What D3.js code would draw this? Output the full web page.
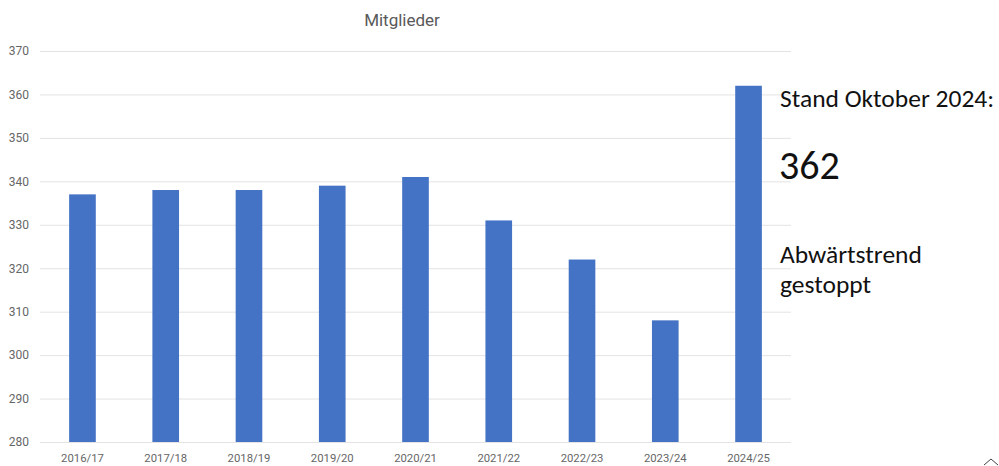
<!DOCTYPE html>
<html><head><meta charset="utf-8">
<script src="https://cdn.jsdelivr.net/npm/d3@7"></script>
<style>body{margin:0;background:#fff;}svg{display:block;}</style>
</head><body>
<svg id="c" width="999" height="466"></svg>
<script>
const categories = ["2016/17","2017/18","2018/19","2019/20","2020/21","2021/22","2022/23","2023/24","2024/25"];
const members = [337,338,338,339,341,331,322,308,362];
const yTicks = [280,290,300,310,320,330,340,350,360,370];
const title = "Mitglieder";
const noteLines = ["Stand Oktober 2024:"];
const noteValue = "362";
const noteTrend = ["Abwärtstrend","gestoppt"];

const svg = d3.select("#c");
const m = {left:40, right:208, top:51, bottom:24};
const W = 999, H = 466;
const x = d3.scaleBand().domain(categories).range([m.left, W - m.right]).paddingInner(0.68).paddingOuter(0.35);
const y = d3.scaleLinear().domain([280,370]).range([H - m.bottom, m.top]);

svg.append("text").attr("x", 402).attr("y", 26).attr("text-anchor","middle")
  .attr("font-family","Roboto, Arial, sans-serif").attr("font-size",17).attr("fill","#595959").text(title);

const yAxis = svg.append("g").attr("transform",`translate(${m.left},0)`)
  .call(d3.axisLeft(y).tickValues(yTicks).tickSize(-(W - m.right - m.left)).tickPadding(11).tickFormat(d3.format("d")));
yAxis.select(".domain").remove();
yAxis.selectAll("line").attr("stroke","#e3e3e3");
yAxis.selectAll("text").attr("font-family","Roboto, Arial, sans-serif").attr("font-size",12).attr("fill","#666");

svg.append("g").selectAll("rect").data(members).join("rect")
  .attr("x",(d,i)=>x(categories[i])).attr("width",x.bandwidth())
  .attr("y",d=>y(d)).attr("height",d=>y(280)-y(d)).attr("fill","#4472C4");

const xAxis = svg.append("g").attr("transform",`translate(0,${H - m.bottom})`)
  .call(d3.axisBottom(x).tickSize(0).tickPadding(12));
xAxis.select(".domain").remove();
xAxis.selectAll("text").attr("font-family","Roboto, Arial, sans-serif").attr("font-size",11.3).attr("fill","#666");

const f = "Carlito, Calibri, Lato, 'Open Sans', sans-serif";
svg.append("text").attr("x",780).attr("y",107).attr("font-family",f).attr("font-size",25.5).attr("fill","#111").text(noteLines[0]);
svg.append("text").attr("x",779).attr("y",179).attr("font-family",f).attr("font-size",40).attr("fill","#111").text(noteValue);
noteTrend.forEach((t,i)=>svg.append("text").attr("x",780).attr("y",263+i*30).attr("font-family",f).attr("font-size",25.5).attr("fill","#111").text(t));

svg.append("path").attr("d","M984,465 L991,459 L998,465").attr("fill","none").attr("stroke","#444").attr("stroke-width",1);
</script>
</body></html>
